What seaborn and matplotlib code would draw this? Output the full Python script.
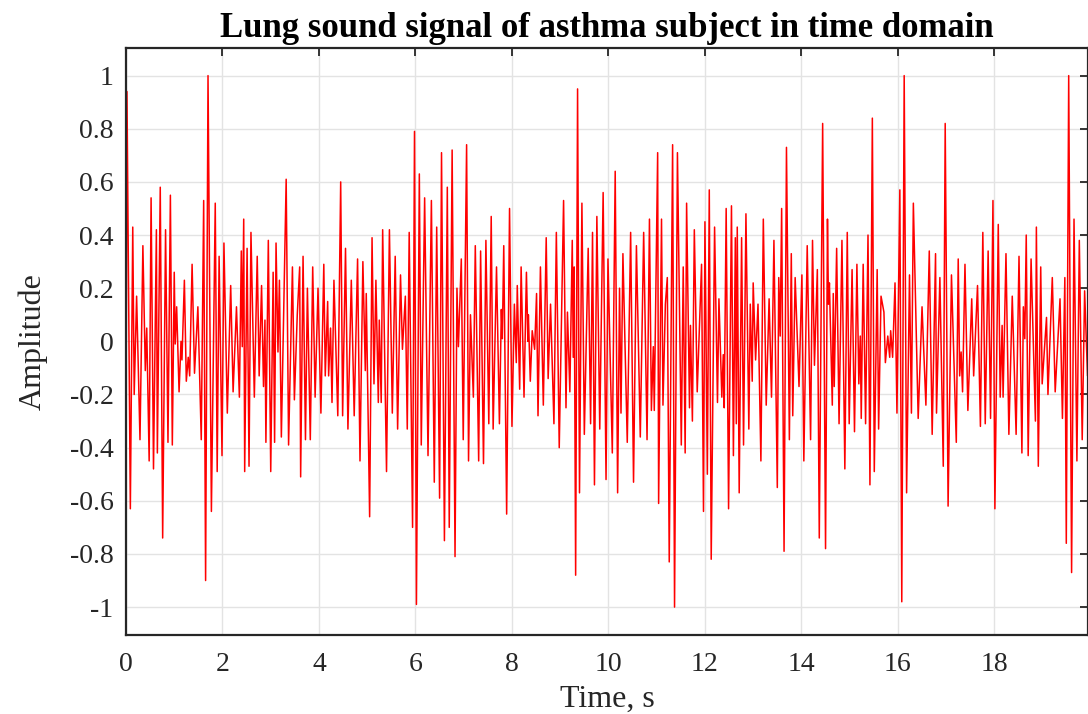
import numpy as np
import pandas as pd
import matplotlib
matplotlib.use("Agg")
import matplotlib.pyplot as plt
import seaborn as sns

# === Signal (peaks / troughs), split in 6 time slices ===
t_0_3 = [0.00, 0.02, 0.09, 0.14, 0.17, 0.22, 0.29, 0.35, 0.40, 0.43, 0.48, 0.52, 0.57, 0.63, 0.65,
         0.71, 0.76, 0.82, 0.87, 0.92, 0.96, 1.00, 1.02, 1.05, 1.10, 1.14, 1.16, 1.21, 1.25, 1.29,
         1.32, 1.37, 1.42, 1.49, 1.56, 1.61, 1.65, 1.70, 1.77, 1.85, 1.89, 1.93, 1.99, 2.03, 2.10,
         2.17, 2.22, 2.29, 2.35, 2.39, 2.41, 2.44, 2.46, 2.51, 2.55, 2.59, 2.66, 2.72, 2.76, 2.81,
         2.85, 2.88, 2.90, 2.95, 3.00, 3.05, 3.08, 3.11, 3.15, 3.18, 3.22, 3.32, 3.37]
a_0_3 = [-0.34, 0.94, -0.63, 0.43, -0.20, 0.17, -0.37, 0.36, -0.11, 0.05, -0.45, 0.54, -0.48, 0.42, -0.42,
         0.58, -0.74, 0.42, -0.38, 0.55, -0.39, 0.26, -0.01, 0.13, -0.19, 0.00, -0.07, 0.23, -0.15, -0.06,
         -0.13, 0.29, -0.12, 0.13, -0.37, 0.53, -0.90, 1.00, -0.64, 0.52, -0.49, 0.32, -0.43, 0.37, -0.27,
         0.21, -0.19, 0.13, -0.21, 0.34, -0.02, 0.46, -0.49, 0.35, -0.47, 0.41, -0.21, 0.32, -0.13, 0.21,
         -0.17, 0.08, -0.38, 0.38, -0.49, 0.26, -0.38, 0.37, -0.04, 0.23, -0.36, 0.61, -0.39]

t_3_7 = [3.45, 3.49, 3.55, 3.60, 3.62, 3.67, 3.72, 3.76, 3.82, 3.87, 3.92, 3.98, 4.04, 4.10, 4.13,
         4.18, 4.20, 4.24, 4.27, 4.31, 4.39, 4.45, 4.49, 4.55, 4.60, 4.67, 4.73, 4.80, 4.85, 4.91,
         4.96, 4.98, 5.05, 5.10, 5.14, 5.18, 5.23, 5.25, 5.29, 5.32, 5.40, 5.46, 5.52, 5.58, 5.63,
         5.69, 5.73, 5.79, 5.83, 5.87, 5.94, 5.98, 6.02, 6.08, 6.12, 6.19, 6.26, 6.33, 6.39, 6.44,
         6.50, 6.54, 6.60, 6.66, 6.70]
a_3_7 = [0.28, -0.22, 0.10, 0.28, -0.51, 0.32, -0.37, 0.20, -0.37, 0.28, -0.21, 0.20, -0.27, 0.29, -0.13,
         0.15, -0.13, 0.05, -0.23, 0.23, -0.28, 0.60, -0.28, 0.35, -0.33, 0.23, -0.28, 0.31, -0.45, 0.30,
         -0.11, 0.18, -0.66, 0.39, -0.16, 0.23, -0.23, 0.08, -0.23, 0.42, -0.49, 0.42, -0.27, 0.32, -0.33,
         0.25, -0.03, 0.17, -0.33, 0.41, -0.70, 0.79, -0.99, 0.63, -0.39, 0.54, -0.43, 0.53, -0.53, 0.43,
         -0.59, 0.71, -0.75, 0.58, -0.70]

t_7_10 = [6.76, 6.82, 6.86, 6.89, 6.95, 6.99, 7.06, 7.10, 7.14, 7.20, 7.24, 7.31, 7.35, 7.41, 7.46,
          7.52, 7.57, 7.61, 7.68, 7.74, 7.78, 7.80, 7.83, 7.89, 7.95, 8.00, 8.05, 8.09, 8.11, 8.16,
          8.19, 8.25, 8.30, 8.33, 8.34, 8.38, 8.42, 8.47, 8.51, 8.54, 8.59, 8.65, 8.71, 8.75, 8.80,
          8.87, 8.92, 8.98, 9.07, 9.12, 9.15, 9.20, 9.25, 9.27, 9.29, 9.32, 9.36, 9.40, 9.45, 9.50,
          9.58, 9.63, 9.67, 9.71, 9.76, 9.82, 9.89, 9.95]
a_7_10 = [0.72, -0.81, 0.20, -0.02, 0.31, -0.37, 0.74, -0.45, 0.10, -0.21, 0.36, -0.45, 0.34, -0.46, 0.38,
          -0.31, 0.47, -0.33, 0.28, -0.31, 0.12, 0.01, 0.36, -0.65, 0.50, -0.32, 0.14, -0.08, 0.21, -0.18,
          0.28, -0.21, 0.26, 0.00, 0.10, -0.15, 0.04, -0.03, 0.18, -0.28, 0.28, -0.24, 0.39, -0.14, 0.14,
          -0.31, 0.41, -0.40, 0.53, -0.25, 0.11, -0.19, 0.38, -0.06, 0.28, -0.88, 0.95, -0.57, 0.52, -0.35,
          0.35, -0.31, 0.41, -0.54, 0.47, -0.33, 0.56, -0.52]

t_10_13 = [9.99, 10.08, 10.14, 10.19, 10.23, 10.26, 10.30, 10.39, 10.46, 10.52, 10.58, 10.66, 10.73, 10.80, 10.85,
           10.89, 10.93, 10.95, 11.02, 11.04, 11.10, 11.13, 11.18, 11.22, 11.26, 11.33, 11.37, 11.43, 11.51, 11.55,
           11.59, 11.62, 11.68, 11.70, 11.74, 11.78, 11.84, 11.93, 11.97, 12.00, 12.05, 12.09, 12.13, 12.20, 12.26,
           12.29, 12.35, 12.38, 12.40, 12.44, 12.49, 12.55, 12.59, 12.63, 12.65, 12.67, 12.71, 12.76, 12.80, 12.85,
           12.91, 12.94, 12.98, 13.00, 13.05, 13.10, 13.16, 13.21, 13.27, 13.33]
a_10_13 = [0.31, -0.42, 0.64, -0.57, 0.20, -0.27, 0.33, -0.38, 0.41, -0.53, 0.36, -0.36, 0.41, -0.37, 0.46,
           -0.26, -0.02, -0.26, 0.71, -0.61, 0.46, -0.24, 0.14, 0.24, -0.83, 0.74, -1.00, 0.71, -0.39, 0.28,
           -0.42, 0.52, -0.25, 0.06, -0.30, 0.42, -0.19, 0.29, -0.64, 0.45, -0.50, 0.57, -0.82, 0.43, -0.23,
           0.16, -0.21, -0.05, -0.25, 0.50, -0.63, 0.51, -0.43, 0.39, -0.31, 0.43, -0.57, 0.39, -0.39, 0.48,
           -0.33, 0.14, -0.15, 0.22, -0.07, 0.14, -0.45, 0.46, -0.24, 0.16]

t_13_17 = [13.38, 13.43, 13.50, 13.53, 13.56, 13.59, 13.64, 13.69, 13.75, 13.79, 13.82, 13.87, 13.95, 14.01, 14.05,
           14.12, 14.19, 14.23, 14.27, 14.33, 14.37, 14.44, 14.50, 14.54, 14.56, 14.58, 14.64, 14.66, 14.68, 14.73,
           14.78, 14.84, 14.90, 14.95, 14.99, 15.05, 15.10, 15.15, 15.19, 15.22, 15.24, 15.28, 15.33, 15.38, 15.42,
           15.47, 15.51, 15.57, 15.60, 15.65, 15.71, 15.74, 15.79, 15.83, 15.85, 15.89, 15.94, 15.98, 16.04, 16.08,
           16.13, 16.18, 16.24, 16.28, 16.32, 16.42, 16.50, 16.58, 16.65]
a_13_17 = [-0.21, 0.38, -0.55, 0.24, 0.02, 0.50, -0.79, 0.73, -0.37, 0.33, -0.28, 0.24, -0.17, 0.25, -0.45,
           0.36, -0.37, 0.38, -0.09, 0.27, -0.74, 0.82, -0.78, 0.46, 0.14, 0.22, -0.24, 0.18, -0.17, 0.35,
           -0.31, 0.38, -0.48, 0.41, -0.31, 0.27, -0.34, 0.29, -0.16, 0.02, -0.29, 0.29, -0.31, 0.40, -0.54,
           0.84, -0.49, 0.27, -0.33, 0.17, 0.11, -0.08, 0.02, -0.06, 0.04, -0.06, 0.22, -0.27, 0.57, -0.98,
           1.00, -0.57, 0.25, -0.27, 0.52, -0.29, 0.13, -0.24, 0.34]

t_17_20 = [16.71, 16.78, 16.80, 16.87, 16.94, 16.98, 17.04, 17.11, 17.21, 17.25, 17.28, 17.31, 17.34, 17.39, 17.45,
           17.53, 17.57, 17.65, 17.71, 17.76, 17.81, 17.87, 17.92, 17.97, 18.01, 18.08, 18.12, 18.16, 18.18, 18.24,
           18.30, 18.37, 18.45, 18.51, 18.57, 18.60, 18.63, 18.66, 18.70, 18.76, 18.85, 18.87, 18.91, 18.96, 18.99,
           19.08, 19.11, 19.20, 19.26, 19.36, 19.41, 19.46, 19.49, 19.54, 19.60, 19.65, 19.71, 19.76, 19.82, 19.87,
           19.93]
a_17_20 = [-0.35, 0.33, -0.27, 0.24, -0.47, 0.82, -0.62, 0.25, -0.38, 0.31, -0.13, -0.04, -0.19, 0.29, -0.26,
           0.16, -0.13, 0.21, -0.32, 0.41, -0.31, 0.34, -0.29, 0.53, -0.63, 0.44, -0.21, 0.06, -0.21, 0.33,
           -0.35, 0.17, -0.35, 0.32, -0.42, 0.13, 0.01, 0.40, -0.43, 0.31, -0.30, 0.43, -0.47, 0.28, -0.16,
           0.09, -0.20, 0.24, -0.19, 0.16, -0.29, 0.24, -0.76, 1.00, -0.87, 0.46, -0.45, 0.38, -0.37, 0.19,
           -0.13]

x_ticks = [0, 2, 4, 6, 8, 10, 12, 14, 16, 18]
y_ticks = [-1, -0.8, -0.6, -0.4, -0.2, 0, 0.2, 0.4, 0.6, 0.8, 1]
y_tick_labels = ["-1", "-0.8", "-0.6", "-0.4", "-0.2", "0", "0.2", "0.4", "0.6", "0.8", "1"]

time_parts = [t_0_3, t_3_7, t_7_10, t_10_13, t_13_17, t_17_20]
amp_parts = [a_0_3, a_3_7, a_7_10, a_10_13, a_13_17, a_17_20]
for tp, ap in zip(time_parts, amp_parts):
    assert len(tp) == len(ap), (len(tp), len(ap))

df = pd.DataFrame({"time": np.concatenate(time_parts), "amp": np.concatenate(amp_parts)})

# === Style ===
sns.set_theme(style="whitegrid")
plt.rcParams["font.family"] = ["Liberation Serif", "DejaVu Serif"]
plt.rcParams["axes.unicode_minus"] = False

fig = plt.figure(figsize=(10.88, 7.14), dpi=100)
ax = fig.add_axes([126 / 1088, 1 - 635 / 714, 962 / 1088, (635 - 47.7) / 714])

sns.lineplot(data=df, x="time", y="amp", color="#ff0000", linewidth=1.1,
             sort=False, estimator=None, ax=ax)

ax.set_xlim(0, 19.94)
ax.set_ylim(-1.105, 1.105)
ax.set_xticks(x_ticks)
ax.set_xticklabels([str(v) for v in x_ticks])
ax.set_yticks(y_ticks)
ax.set_yticklabels(y_tick_labels)

ax.grid(True, color="#e3e3e3", linewidth=1.0)
for side in ["left", "bottom", "top", "right"]:
    ax.spines[side].set_visible(True)
    ax.spines[side].set_color("#262626")
    ax.spines[side].set_linewidth(1.6)
ax.tick_params(axis="both", direction="in", length=6, width=1.3, colors="#262626",
               labelsize=20, labelcolor="#262626", top=True, right=True)
ax.tick_params(axis="x", pad=12)
ax.tick_params(axis="y", pad=9)

ax.set_title("Lung sound signal of asthma subject in time domain",
             fontsize=25, fontweight="bold", color="black", pad=8)
ax.set_xlabel("Time, s", fontsize=23, color="#262626", labelpad=6)
ax.set_ylabel("Amplitude", fontsize=23, color="#262626", labelpad=16)

plt.savefig("out.png", dpi=100)
plt.close()
